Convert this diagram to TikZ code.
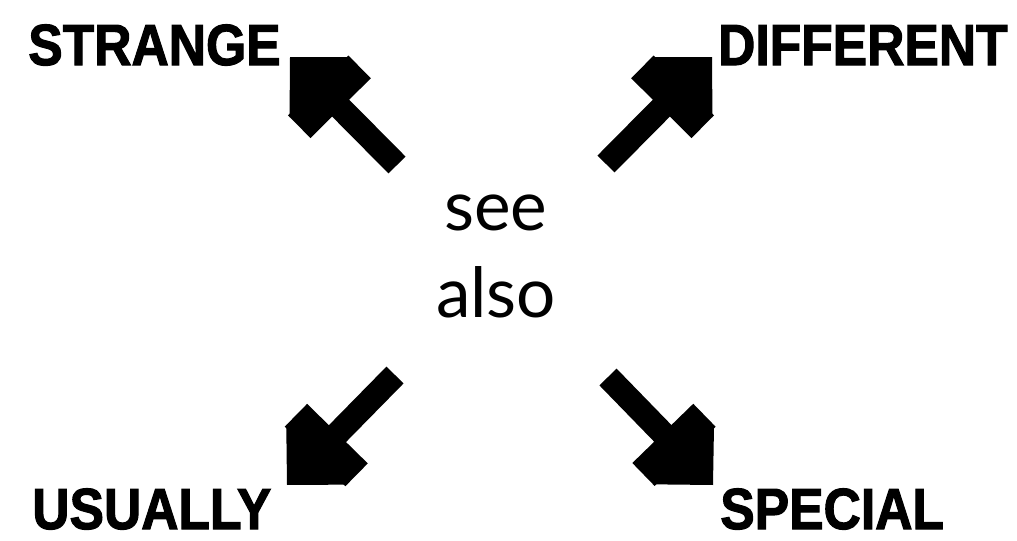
\documentclass[tikz,border=0pt]{standalone}
\usepackage{fontspec}
\setmainfont{Lato}
\newfontfamily\labelfont{Liberation Sans}[BoldFeatures={FakeBold=2}]
\usetikzlibrary{arrows.meta}

\begin{document}
\begin{tikzpicture}[
    cornerword/.style={font=\labelfont\bfseries\fontsize{33}{36}\selectfont,
                       inner sep=0pt, xscale=0.89},
    centre/.style={font=\fontsize{39.4}{49.5}\selectfont, align=center, inner sep=0pt},
    bigarrow/.style={line width=0.48cm,
        -{Rectangle[length=0.64cm, width=1.7cm, line width=1.5pt, sep=-0.05cm]Triangle[length=0.85cm, width=1.7cm, line width=1.5pt]}}
]
\useasboundingbox (0,0) rectangle (20.34,-10.82);

% ====================== WORDS ======================
\node[centre] (seealso) at (9.92, -5.12) {see\\also};

\node[cornerword, anchor=base west] (strange)   at (0.56, -1.30)  {STRANGE};
\node[cornerword, anchor=base east] (different) at (20.16, -1.30) {DIFFERENT};
\node[cornerword, anchor=base west] (usually)   at (0.64, -10.58) {USUALLY};
\node[cornerword, anchor=base west] (special)   at (14.40, -10.58) {SPECIAL};

% ====================== ARROW ENDS ======================
\coordinate (tl-from) at (7.94, -3.30);
\coordinate (tl-to)   at (5.80, -1.14);
\coordinate (tr-from) at (12.12, -3.28);
\coordinate (tr-to)   at (14.24, -1.14);
\coordinate (bl-from) at (7.90, -7.50);
\coordinate (bl-to)   at (5.74, -9.70);
\coordinate (br-from) at (12.16, -7.54);
\coordinate (br-to)   at (14.26, -9.70);

% ====================== ARROWS ======================
\draw[bigarrow] (tl-from) -- (tl-to);
\draw[bigarrow] (tr-from) -- (tr-to);
\draw[bigarrow] (bl-from) -- (bl-to);
\draw[bigarrow] (br-from) -- (br-to);

\end{tikzpicture}
\end{document}
